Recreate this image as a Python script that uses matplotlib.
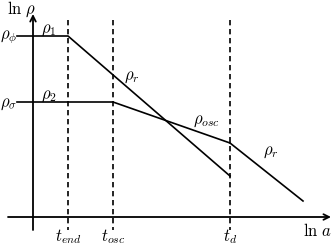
import matplotlib.pyplot as plt

plt.rcParams['mathtext.fontset'] = 'cm'

# schematic coordinates (pixel-like units, y grows downward)
t_marks = [68, 113, 230]
t_labels = [r'$t_{end}$', r'$t_{osc}$', r'$t_d$']

rho1_x = [17, 68, 230]
rho1_y = [36, 36, 176]
rho2_x = [17, 113, 230]
rho2_y = [102, 102, 143]
rhor2_x = [230, 303]
rhor2_y = [143, 201]

fig = plt.figure(figsize=(3.32, 2.46), dpi=100)
ax = fig.add_axes([0, 0, 1, 1])
ax.set_xlim(0, 332)
ax.set_ylim(246, 0)
ax.axis('off')

# axes with arrows
ax.annotate('', xy=(331, 217), xytext=(8, 217),
            arrowprops=dict(arrowstyle='->', lw=1.3, color='black', shrinkA=0, shrinkB=0))
ax.annotate('', xy=(33, 14), xytext=(33, 230),
            arrowprops=dict(arrowstyle='->', lw=1.3, color='black', shrinkA=0, shrinkB=0))

for x in t_marks:
    ax.plot([x, x], [20, 230], color='black', lw=1.2, ls=(0, (3.2, 2.2)))

ax.plot(rho1_x, rho1_y, color='black', lw=1.2)
ax.plot(rho2_x, rho2_y, color='black', lw=1.2)
ax.plot(rhor2_x, rhor2_y, color='black', lw=1.2)

fs = 12
for x, lab in zip(t_marks, t_labels):
    ax.text(x, 237, lab, fontsize=fs, ha='center', va='center')

ax.text(22, 9, r'$\ln\,\rho$', fontsize=fs, ha='center', va='center')
ax.text(318, 231, r'$\ln\,a$', fontsize=fs, ha='center', va='center')
ax.text(9, 37, r'$\rho_\phi$', fontsize=fs, ha='center', va='center')
ax.text(9, 103, r'$\rho_\sigma$', fontsize=fs, ha='center', va='center')
ax.text(41, 33, r'$\rho_1$', fontsize=fs, ha='left', va='baseline')
ax.text(41, 99, r'$\rho_2$', fontsize=fs, ha='left', va='baseline')
ax.text(132, 76, r'$\rho_r$', fontsize=fs, ha='center', va='center')
ax.text(206, 120, r'$\rho_{osc}$', fontsize=fs, ha='center', va='center')
ax.text(271, 151, r'$\rho_r$', fontsize=fs, ha='center', va='center')

fig.savefig('out.png', dpi=100)
